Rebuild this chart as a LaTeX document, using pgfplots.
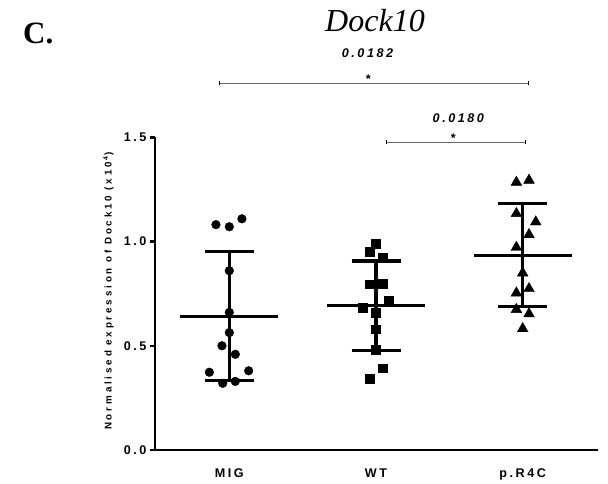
\documentclass[border=0pt]{standalone}
\usepackage{fontspec}
\usepackage{pgfplots}
\pgfplotsset{compat=1.18}
\setmainfont{Liberation Sans}
\newfontfamily\arialsp[LetterSpace=20]{Liberation Sans}
\newfontfamily\arialwide[LetterSpace=29]{Liberation Sans}
\newfontfamily\timesf{Liberation Serif}
\newcommand{\lab}{\arialsp\bfseries\fontsize{12.6bp}{14bp}\selectfont}
\newcommand{\pval}{\arialsp\bfseries\itshape\fontsize{12.6bp}{14bp}\selectfont}
\begin{document}
\begin{tikzpicture}
\path[use as bounding box] (0,0) rectangle (608bp,484bp);
\begin{axis}[
  at={(155bp,34bp)}, anchor=south west,
  scale only axis, width=443bp, height=312.7bp,
  xmin=-0.5065, xmax=2.5133, ymin=0, ymax=1.5,
  clip=false,
  axis x line*=bottom, axis y line*=left,
  axis line style={line width=2.7bp, black},
  xtick={0,1,2}, xticklabels={MIG,WT,p.R4C},
  x tick style={draw=none},
  xticklabel style={font=\lab, yshift=-10bp},
  ytick={0,0.5,1,1.5}, yticklabels={0.0,0.5,1.0,1.5},
  y tick style={line width=2.5bp, black},
  tick align=outside, major tick length=5bp,
  yticklabel style={font=\lab},
  ylabel={Normalised expression of Dock10 (x10\textsuperscript{\,4}\,)},
  every axis y label/.style={at={(axis description cs:-0.105,0.509)}, rotate=90, anchor=center, font=\arialwide\bfseries\fontsize{9.8bp}{11bp}\selectfont},
]
% MIG
\addplot[only marks, mark=*, mark size=4.35bp, black] coordinates {
(-0.091,1.081) (0,1.071) (0.086,1.109) (0,0.860) (0,0.660) (0,0.563)
(-0.05,0.500) (0.041,0.459) (-0.136,0.373) (0.132,0.380) (-0.045,0.320) (0.041,0.329)};
% WT
\addplot[only marks, mark=square*, mark size=4.35bp, black] coordinates {
(1,0.991) (0.955,0.951) (1.045,0.924) (0.955,0.795) (1.045,0.799) (1.087,0.719)
(0.911,0.683) (1,0.660) (1,0.580) (1,0.480) (1.045,0.392) (0.955,0.342)};
% p.R4C
\addplot[only marks, mark=triangle*, mark size=6.2bp, black] coordinates {
(1.957,1.284) (2.043,1.294) (1.957,1.134) (2.089,1.094) (2.043,1.033) (1.957,0.972)
(2,0.849) (1.957,0.753) (2.043,0.774) (1.957,0.674) (2.043,0.653) (2,0.582)};
% mean and SD
\addplot[black, line width=3.3bp] coordinates {(-0.334,0.641) (0.334,0.641)};
\addplot[black, line width=3.3bp] coordinates {(0,0.332) (0,0.951)};
\addplot[black, line width=3.3bp] coordinates {(-0.167,0.951) (0.167,0.951)};
\addplot[black, line width=3.3bp] coordinates {(-0.167,0.332) (0.167,0.332)};
\addplot[black, line width=3.3bp] coordinates {(0.666,0.694) (1.334,0.694)};
\addplot[black, line width=3.3bp] coordinates {(1,0.478) (1,0.906)};
\addplot[black, line width=3.3bp] coordinates {(0.833,0.906) (1.167,0.906)};
\addplot[black, line width=3.3bp] coordinates {(0.833,0.478) (1.167,0.478)};
\addplot[black, line width=3.3bp] coordinates {(1.666,0.934) (2.334,0.934)};
\addplot[black, line width=3.3bp] coordinates {(2,0.688) (2,1.181)};
\addplot[black, line width=3.3bp] coordinates {(1.833,1.181) (2.167,1.181)};
\addplot[black, line width=3.3bp] coordinates {(1.833,0.688) (2.167,0.688)};
\end{axis}
% title and panel letter
\node[anchor=base west, inner sep=0, font=\timesf\bfseries\fontsize{31bp}{34bp}\selectfont] at (23bp,440.7bp) {C.};
\node[anchor=base, inner sep=0, font=\timesf\itshape\fontsize{32bp}{36bp}\selectfont] at (375bp,452.3bp) {Dock10};
% significance brackets
\draw[black!60, line width=1bp] (219.3bp,400.7bp) -- (528.3bp,400.7bp);
\draw[black, line width=0.8bp] (219.3bp,398.5bp) -- (219.3bp,402.9bp) (528.3bp,398.5bp) -- (528.3bp,402.9bp);
\node[anchor=base, inner sep=0, font=\pval] at (367.5bp,426.7bp) {0.0182};
\node[anchor=base, inner sep=0, font=\lab] at (368.3bp,400.7bp) {*};
\draw[black!60, line width=1bp] (386bp,341.7bp) -- (525.7bp,341.7bp);
\draw[black, line width=0.8bp] (386bp,339.5bp) -- (386bp,343.9bp) (525.7bp,339.5bp) -- (525.7bp,343.9bp);
\node[anchor=base, inner sep=0, font=\pval] at (458.3bp,361.7bp) {0.0180};
\node[anchor=base, inner sep=0, font=\lab] at (453.3bp,341.7bp) {*};
\end{tikzpicture}
\end{document}
